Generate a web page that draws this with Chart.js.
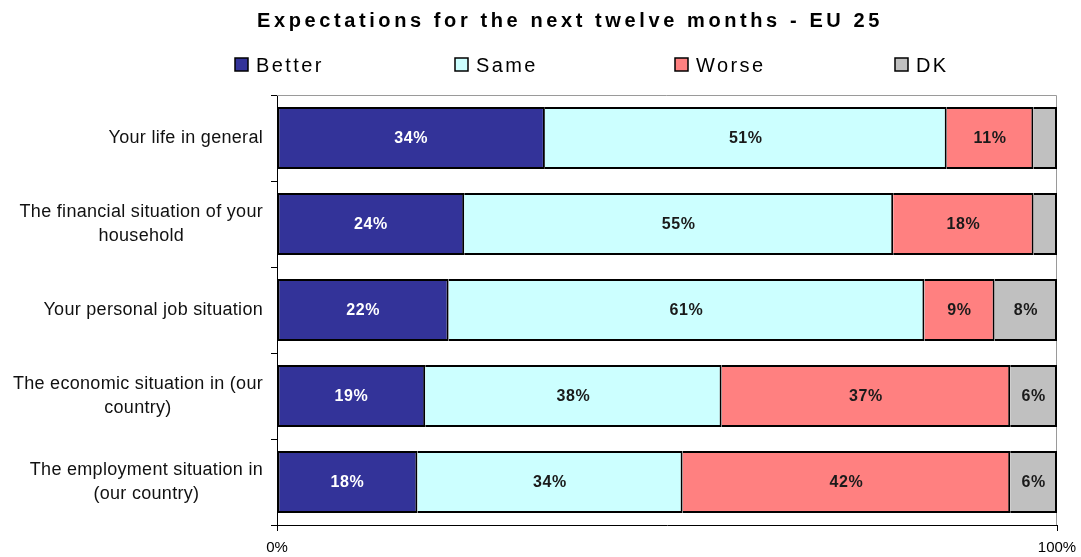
<!DOCTYPE html>
<html>
<head>
<meta charset="utf-8">
<script src="https://cdn.jsdelivr.net/npm/chart.js@4.4.1/dist/chart.umd.min.js"></script>
<style>
  html, body { margin: 0; padding: 0; background: #fff; }
  #wrap { width: 1081px; height: 557px; position: relative; }
</style>
</head>
<body>
<div id="wrap"><canvas id="chart"></canvas></div>
<script>
/* ── Data ─────────────────────────────────────────────────────────────── */
const TITLE = 'Expectations for the next twelve months - EU 25';
const categories = [
  ['Your life in general'],
  ['The financial situation of your', 'household'],
  ['Your personal job situation'],
  ['The economic situation in (our', 'country)'],
  ['The employment situation in', '(our country)'],
];
const seriesNames = ['Better', 'Same', 'Worse', 'DK'];
const better = [34, 24, 22, 19, 18];
const same   = [51, 55, 61, 38, 34];
const worse  = [11, 18, 9, 37, 42];
const dk     = [3, 3, 8, 6, 6];
const xTicks = [0, 100];

const series = [better, same, worse, dk];
const fills  = ['#333399', '#CCFFFF', '#FF8080', '#C0C0C0'];
const inkOn  = ['#ffffff', '#1a1a1a', '#1a1a1a', '#1a1a1a'];
const FONT   = '"Liberation Sans", Arial, sans-serif';

// 100% stacked: each row is scaled by its own total
const totals = categories.map((_, j) => series.reduce((s, arr) => s + arr[j], 0));
const pct = arr => arr.map((v, j) => v / totals[j] * 100);

/* ── Drawing helpers (title, legend, axis labels, bar labels) ─────────── */
const decor = {
  id: 'decor',
  beforeDatasetsDraw(chart) {
    const { ctx, chartArea: a } = chart;
    ctx.save();
    ctx.strokeStyle = '#9a9a9a';
    ctx.lineWidth = 1;
    ctx.beginPath();
    ctx.moveTo(a.left, a.top + 0.5);
    ctx.lineTo(a.right - 0.5, a.top + 0.5);
    ctx.lineTo(a.right - 0.5, a.bottom);
    ctx.stroke();
    ctx.restore();
  },
  afterDraw(chart) {
    const { ctx } = chart;
    ctx.save();

    // title
    ctx.fillStyle = '#000';
    ctx.textAlign = 'center';
    ctx.textBaseline = 'alphabetic';
    ctx.font = 'bold 20px ' + FONT;
    ctx.letterSpacing = '3.6px';
    ctx.fillText(TITLE, 570, 27);

    // legend
    ctx.font = '20px ' + FONT;
    ctx.letterSpacing = '2.4px';
    ctx.textAlign = 'left';
    ctx.textBaseline = 'middle';
    seriesNames.forEach((name, i) => {
      const x = 235 + i * 220;
      ctx.fillStyle = fills[i];
      ctx.fillRect(x, 58, 13, 13);
      ctx.strokeStyle = '#000';
      ctx.lineWidth = 1.5;
      ctx.strokeRect(x, 58, 13, 13);
      ctx.fillStyle = '#000';
      ctx.fillText(name, x + 21, 66);
    });

    // category labels: block right-aligned, lines centred
    const ys = chart.scales.y;
    ctx.font = '18px ' + FONT;
    ctx.letterSpacing = '0.3px';
    ctx.textAlign = 'center';
    ctx.fillStyle = '#111';
    categories.forEach((lines, j) => {
      const y = ys.getPixelForValue(j);
      const w = Math.max(...lines.map(l => ctx.measureText(l).width));
      const cx = 263 - w / 2;
      lines.forEach((l, k) => {
        ctx.fillText(l, cx, y + (k - (lines.length - 1) / 2) * 23.5);
      });
    });

    // value labels inside bars
    ctx.font = 'bold 16px ' + FONT;
    ctx.letterSpacing = '0.6px';
    series.forEach((arr, i) => {
      chart.getDatasetMeta(i).data.forEach((bar, j) => {
        if (arr[j] < 5) return;
        ctx.fillStyle = inkOn[i];
        ctx.fillText(arr[j] + '%', (bar.x + bar.base) / 2, bar.y + 1);
      });
    });
    ctx.restore();
  },
};

/* ── Chart ────────────────────────────────────────────────────────────── */
new Chart(document.getElementById('chart'), {
  type: 'bar',
  data: {
    labels: categories.map(c => c.join(' ')),
    datasets: series.map((arr, i) => ({
      label: seriesNames[i],
      data: pct(arr),
      backgroundColor: fills[i],
      borderColor: '#000',
      borderWidth: 2,
      borderSkipped: i === 0 ? false : 'start',
      barPercentage: 0.72,
      categoryPercentage: 1,
    })),
  },
  options: {
    indexAxis: 'y',
    responsive: true,
    maintainAspectRatio: false,
    animation: false,
    layout: { padding: { top: 95, right: 24, left: 0, bottom: 0 } },
    plugins: {
      legend: { display: false },
      title: { display: false },
      tooltip: { enabled: false },
    },
    scales: {
      x: {
        stacked: true,
        min: 0, max: 100,
        afterBuildTicks: s => { s.ticks = xTicks.map(v => ({ value: v })); },
        afterFit: s => { s.height = 32; s.paddingLeft = 0; s.paddingRight = 0; },
        ticks: {
          callback: v => v + '%',
          color: '#000',
          font: { family: FONT, size: 15 },
          padding: 8,
          maxRotation: 0,
        },
        grid: { drawOnChartArea: false, color: '#000', tickLength: 6 },
        border: { color: '#000', width: 1 },
      },
      y: {
        stacked: true,
        afterFit: s => { s.width = 277; s.paddingTop = 0; s.paddingBottom = 0; },
        ticks: { display: false },
        grid: { drawOnChartArea: false, color: '#000', tickLength: 6, offset: true },
        border: { color: '#000', width: 1 },
      },
    },
  },
  plugins: [decor],
});
</script>
</body>
</html>
